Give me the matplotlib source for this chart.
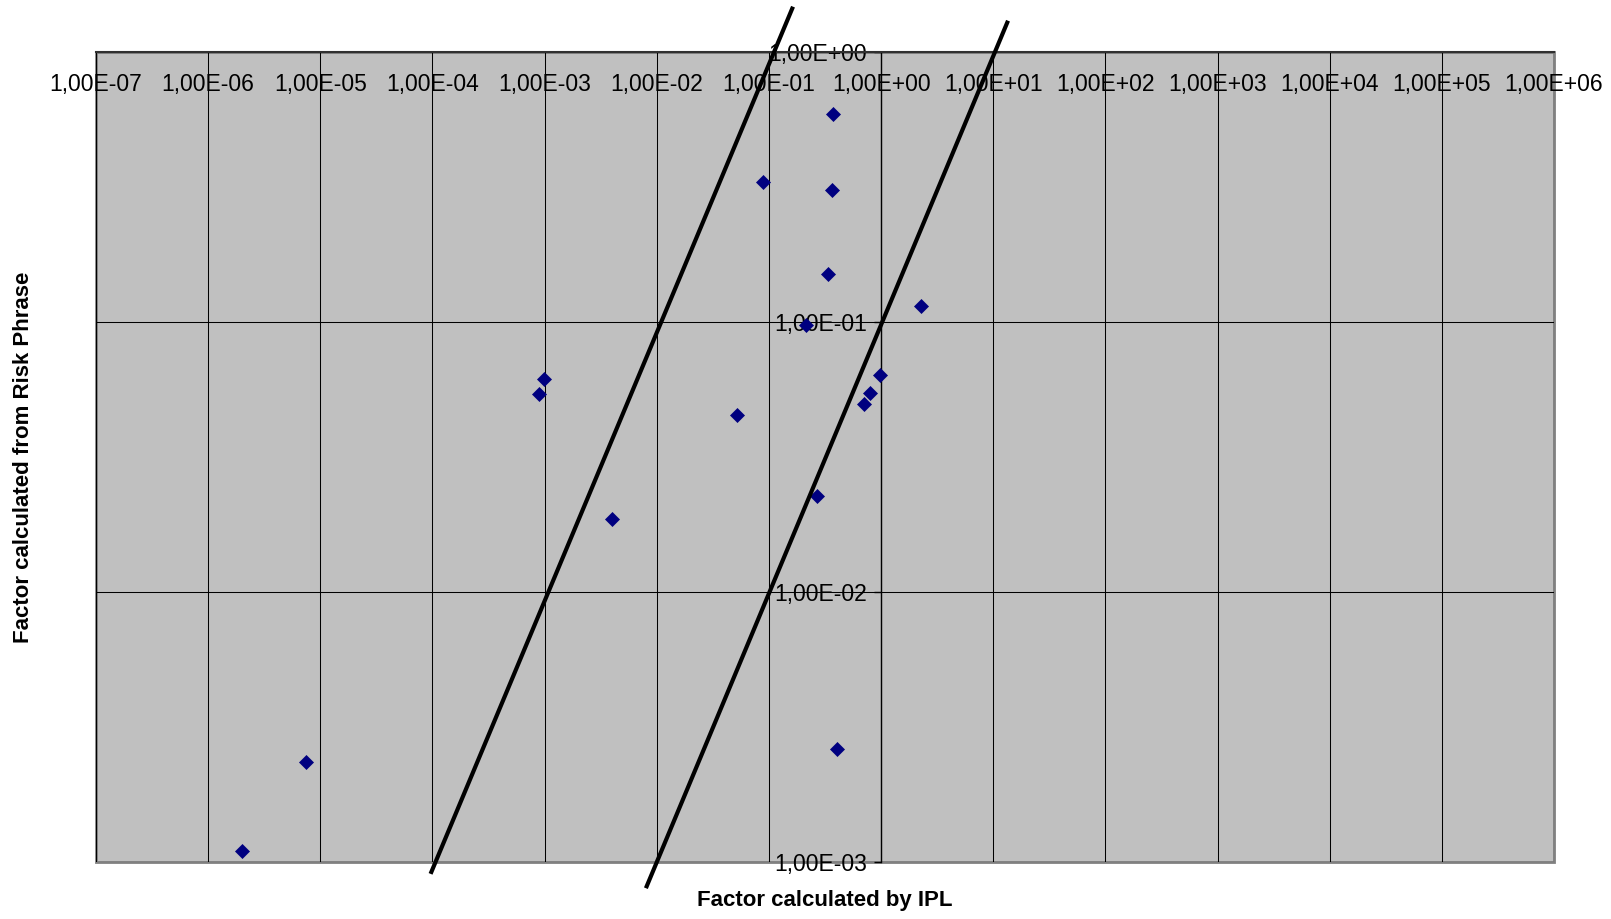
import matplotlib
matplotlib.use('Agg')
import matplotlib.pyplot as plt
from matplotlib.patches import Rectangle
from matplotlib.ticker import FixedLocator, NullLocator

# factor from IPL (x) vs factor from risk phrase (y)
ipl = [0.371, 0.089, 0.366, 0.339, 2.26, 0.214, 0.98, 9.8e-4, 9.0e-4,
       0.80, 0.71, 0.0522, 0.269, 4.0e-3, 0.403, 7.46e-6, 2.02e-6]
risk = [0.591, 0.330, 0.308, 0.150, 0.115, 0.0975, 0.0636, 0.0615, 0.0543,
        0.0544, 0.0497, 0.0453, 0.0227, 0.0187, 2.62e-3, 2.34e-3, 1.096e-3]

# the two hand drawn bounds (factor 10 above / below)
upper_x = [9.62e-5, 0.164]
upper_y = [9.04e-4, 1.472]
lower_x = [8.0e-3, 13.55]
lower_y = [8.0e-4, 1.306]

x_ticks = [1e-7, 1e-6, 1e-5, 1e-4, 1e-3, 1e-2, 1e-1, 1e0, 1e1, 1e2, 1e3, 1e4, 1e5, 1e6]
x_labels = ['1,00E-07', '1,00E-06', '1,00E-05', '1,00E-04', '1,00E-03', '1,00E-02', '1,00E-01',
            '1,00E+00', '1,00E+01', '1,00E+02', '1,00E+03', '1,00E+04', '1,00E+05', '1,00E+06']
y_ticks = [1e-3, 1e-2, 1e-1, 1e0]
y_labels = ['1,00E-03', '1,00E-02', '1,00E-01', '1,00E+00']

plt.rcParams['font.family'] = ['Liberation Sans', 'DejaVu Sans']

fig = plt.figure(figsize=(16.11, 9.19), dpi=100)
ax = fig.add_axes([0.0596, 0.0620, 0.9050, 0.8814])
ax.set_facecolor('#C0C0C0')
ax.set_xscale('log')
ax.set_yscale('log')
ax.set_xlim(1e-7, 1e6)
ax.set_ylim(1e-3, 1e0)

ax.xaxis.set_major_locator(FixedLocator(x_ticks))
ax.yaxis.set_major_locator(FixedLocator(y_ticks))
ax.xaxis.set_minor_locator(NullLocator())
ax.yaxis.set_minor_locator(NullLocator())
ax.set_xticklabels(x_labels)
ax.set_yticklabels(y_labels)

ax.grid(True, which='major', color='black', linewidth=0.75, zorder=1)
ax.set_axisbelow(True)

# axes cross at (1, 1)
ax.spines['left'].set_position(('data', 1.0))
ax.spines['bottom'].set_position(('data', 1.0))
ax.spines['left'].set_color('black')
ax.spines['bottom'].set_color('#303030')
ax.spines['left'].set_linewidth(1.0)
ax.spines['bottom'].set_linewidth(1.5)
ax.spines['top'].set_visible(False)
ax.spines['right'].set_visible(False)
ax.add_patch(Rectangle((0, 0), 1, 1, transform=ax.transAxes, fill=False,
                       edgecolor='#808080', linewidth=2, zorder=0.5, clip_on=False))

ax.tick_params(axis='x', length=0, pad=15, labelsize=16.5, colors='black')
ax.tick_params(axis='y', direction='out', length=5, width=1, pad=5, labelsize=16.5, colors='black')

ax.plot(ipl, risk, linestyle='none', marker='D', markersize=7,
        markerfacecolor='#000080', markeredgecolor='#000080', markeredgewidth=0.5, zorder=3)

ax.plot(upper_x, upper_y, color='black', linewidth=3, solid_capstyle='butt', clip_on=False, zorder=4)
ax.plot(lower_x, lower_y, color='black', linewidth=3, solid_capstyle='butt', clip_on=False, zorder=4)

ax.set_xlabel('Factor calculated by IPL', fontsize=16, fontweight='bold', va='center')
ax.xaxis.set_label_coords(0.5, -0.047)
ax.set_ylabel('Factor calculated from Risk Phrase', fontsize=16, fontweight='bold', va='center')
ax.yaxis.set_label_coords(-0.050, 0.5)

fig.savefig('out.png', dpi=100)
